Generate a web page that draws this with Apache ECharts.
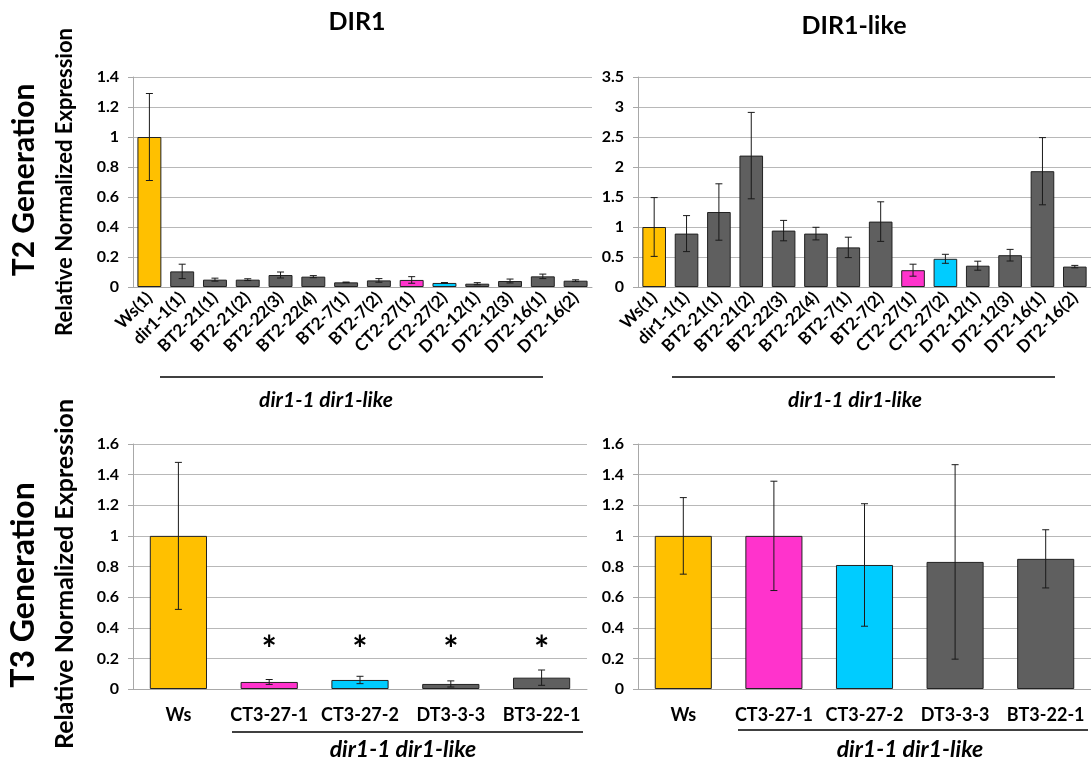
<!DOCTYPE html>
<html>
<head>
<meta charset="utf-8">
<script src="https://cdn.jsdelivr.net/npm/echarts@6/dist/echarts.min.js"></script>
<style>
html,body{margin:0;padding:0;background:#fff;}
#chart{width:1091px;height:760px;}
</style>
</head>
<body>
<div id="chart"></div>
<script>
// ---------- DATA ----------
const t2Categories = ['Ws(1)','dir1-1(1)','BT2-21(1)','BT2-21(2)','BT2-22(3)','BT2-22(4)','BT2-7(1)','BT2-7(2)','CT2-27(1)','CT2-27(2)','DT2-12(1)','DT2-12(3)','DT2-16(1)','DT2-16(2)'];
const t2Groups = ['wt','mut','mut','mut','mut','mut','mut','mut','ct1','ct2','mut','mut','mut','mut'];
const dir1T2Values = [1.0,0.104,0.049,0.049,0.080,0.069,0.031,0.044,0.047,0.027,0.022,0.040,0.071,0.042];
const dir1T2Errors = [0.29,0.048,0.010,0.006,0.020,0.007,0.002,0.012,0.022,0.003,0.007,0.013,0.015,0.006];
const dir1likeT2Values = [1.0,0.89,1.25,2.19,0.94,0.89,0.66,1.09,0.28,0.47,0.355,0.53,1.93,0.34];
const dir1likeT2Errors = [0.49,0.30,0.47,0.72,0.17,0.105,0.17,0.33,0.10,0.075,0.075,0.097,0.56,0.02];

const t3Categories = ['Ws','CT3-27-1','CT3-27-2','DT3-3-3','BT3-22-1'];
const t3Groups = ['wt','ct1','ct2','mut','mut'];
const dir1T3Values = [1.0,0.046,0.059,0.033,0.074];
const dir1T3Errors = [0.48,0.016,0.024,0.020,0.050];
const dir1T3Significant = [false,true,true,true,true];
const dir1likeT3Values = [1.0,1.0,0.81,0.83,0.85];
const dir1likeT3Errors = [0.25,0.357,0.40,0.635,0.19];

const t2Ticks = {dir1:{max:1.4,interval:0.2}, dir1like:{max:3.5,interval:0.5}};
const t3Ticks = {max:1.6,interval:0.2};
const asteriskLevel = 0.31;

// ---------- STYLE ----------
const FONT = 'Lato';
const groupColors = {wt:'#FFC000', mut:'#5F5F5F', ct1:'#FF33CC', ct2:'#00CCFF'};
const gridColor = '#B8B8B8';

const grids = [
  {left:133, top:77, width:459, height:210},
  {left:638, top:77, width:453, height:210},
  {left:133, top:444, width:454, height:245},
  {left:638, top:444, width:453, height:245}
];

function xAxis(gi, cats, rotated){
  return {
    type:'category', gridIndex:gi, data:cats,
    axisLine:{show:true, lineStyle:{color:'#A8A8A8', width:1}},
    axisTick:{show:false},
    axisLabel: rotated ? {rotate:45, interval:0, margin:8, color:'#000', fontFamily:FONT, fontWeight:'bold', fontSize:17}
                       : {interval:0, margin:17, color:'#000', fontFamily:FONT, fontWeight:'bold', fontSize:18}
  };
}
function yAxis(gi, max, interval){
  return {
    type:'value', gridIndex:gi, min:0, max:max, interval:interval,
    axisLine:{show:true, lineStyle:{color:'#A8A8A8', width:1}},
    axisTick:{show:true, length:5, lineStyle:{color:'#A8A8A8'}},
    splitLine:{show:true, lineStyle:{color:gridColor, width:1}},
    axisLabel:{margin:14, color:'#000', fontFamily:FONT, fontWeight:'bold', fontSize:16}
  };
}
function barSeries(gi, values, groups, gap){
  return {
    type:'bar', xAxisIndex:gi, yAxisIndex:gi, barCategoryGap:gap,
    data: values.map((v,i)=>({value:v, itemStyle:{color:groupColors[groups[i]]}})),
    itemStyle:{borderColor:'#222', borderWidth:1},
    z:2, silent:true
  };
}
function errorSeries(gi, values, errors){
  return {
    type:'custom', xAxisIndex:gi, yAxisIndex:gi, z:5, silent:true,
    data: values.map((v,i)=>[i, v, errors[i]]),
    encode:{x:0, y:1},
    renderItem:function(params, api){
      const x = api.value(0), v = api.value(1), e = api.value(2);
      const t = api.coord([x, v+e]);
      const b = api.coord([x, v-e]);
      const hw = 3.5;
      const st = {stroke:'#1a1a1a', lineWidth:1};
      return {type:'group', children:[
        {type:'line', shape:{x1:t[0], y1:t[1], x2:b[0], y2:b[1]}, style:st},
        {type:'line', shape:{x1:t[0]-hw, y1:t[1], x2:t[0]+hw, y2:t[1]}, style:st},
        {type:'line', shape:{x1:b[0]-hw, y1:b[1], x2:b[0]+hw, y2:b[1]}, style:st}
      ]};
    }
  };
}
function asteriskSeries(gi, flags){
  return {
    type:'custom', xAxisIndex:gi, yAxisIndex:gi, z:6, silent:true,
    data: flags.map((f,i)=>[i, f ? asteriskLevel : null]).filter(d=>d[1]!==null),
    encode:{x:0, y:1},
    renderItem:function(params, api){
      const p = api.coord([api.value(0), api.value(1)]);
      return {type:'text', x:p[0], y:p[1]+9, style:{text:'*', fill:'#000', font:'bold 36px '+FONT, textAlign:'center', textVerticalAlign:'middle'}};
    }
  };
}

function vtext(text, x, y, size){
  return {type:'text', x:x, y:y, rotation:Math.PI/2,
    style:{text:text, fill:'#000', font:'bold '+size+'px '+FONT, textAlign:'center', textVerticalAlign:'middle'}};
}
function htext(text, x, y, font){
  return {type:'text', x:x, y:y,
    style:{text:text, fill:'#000', font:font, textAlign:'center', textVerticalAlign:'middle'}};
}
function hline(x1, x2, y){
  return {type:'line', shape:{x1:x1, y1:y, x2:x2, y2:y}, style:{stroke:'#000', lineWidth:1.5}};
}

const option = {
  animation:false,
  backgroundColor:'#fff',
  grid: grids,
  xAxis:[xAxis(0,t2Categories,true), xAxis(1,t2Categories,true), xAxis(2,t3Categories,false), xAxis(3,t3Categories,false)],
  yAxis:[yAxis(0,t2Ticks.dir1.max,t2Ticks.dir1.interval), yAxis(1,t2Ticks.dir1like.max,t2Ticks.dir1like.interval),
         yAxis(2,t3Ticks.max,t3Ticks.interval), yAxis(3,t3Ticks.max,t3Ticks.interval)],
  series:[
    barSeries(0, dir1T2Values, t2Groups, '27%'),
    errorSeries(0, dir1T2Values, dir1T2Errors),
    barSeries(1, dir1likeT2Values, t2Groups, '27%'),
    errorSeries(1, dir1likeT2Values, dir1likeT2Errors),
    barSeries(2, dir1T3Values, t3Groups, '37%'),
    errorSeries(2, dir1T3Values, dir1T3Errors),
    asteriskSeries(2, dir1T3Significant),
    barSeries(3, dir1likeT3Values, t3Groups, '37%'),
    errorSeries(3, dir1likeT3Values, dir1likeT3Errors)
  ],
  graphic:[
    htext('DIR1', 357, 22, 'bold 25px '+FONT),
    htext('DIR1-like', 854, 26, 'bold 25px '+FONT),
    vtext('T2 Generation', 24, 180, 30),
    vtext('Relative Normalized Expression', 65, 182, 22),
    vtext('T3 Generation', 24, 585, 32),
    vtext('Relative Normalized Expression', 65, 574, 25),
    hline(160, 543, 377),
    hline(672, 1055, 377),
    hline(232, 583, 732),
    hline(738, 1088, 730),
    htext('dir1-1 dir1-like', 326, 400, 'italic bold 21px '+FONT),
    htext('dir1-1 dir1-like', 855, 400, 'italic bold 21px '+FONT),
    htext('dir1-1 dir1-like', 403, 750, 'italic bold 23px '+FONT),
    htext('dir1-1 dir1-like', 910, 750, 'italic bold 23px '+FONT)
  ]
};

const chart = echarts.init(document.getElementById('chart'), null, {renderer:'canvas'});
chart.setOption(option);
</script>
</body>
</html>
